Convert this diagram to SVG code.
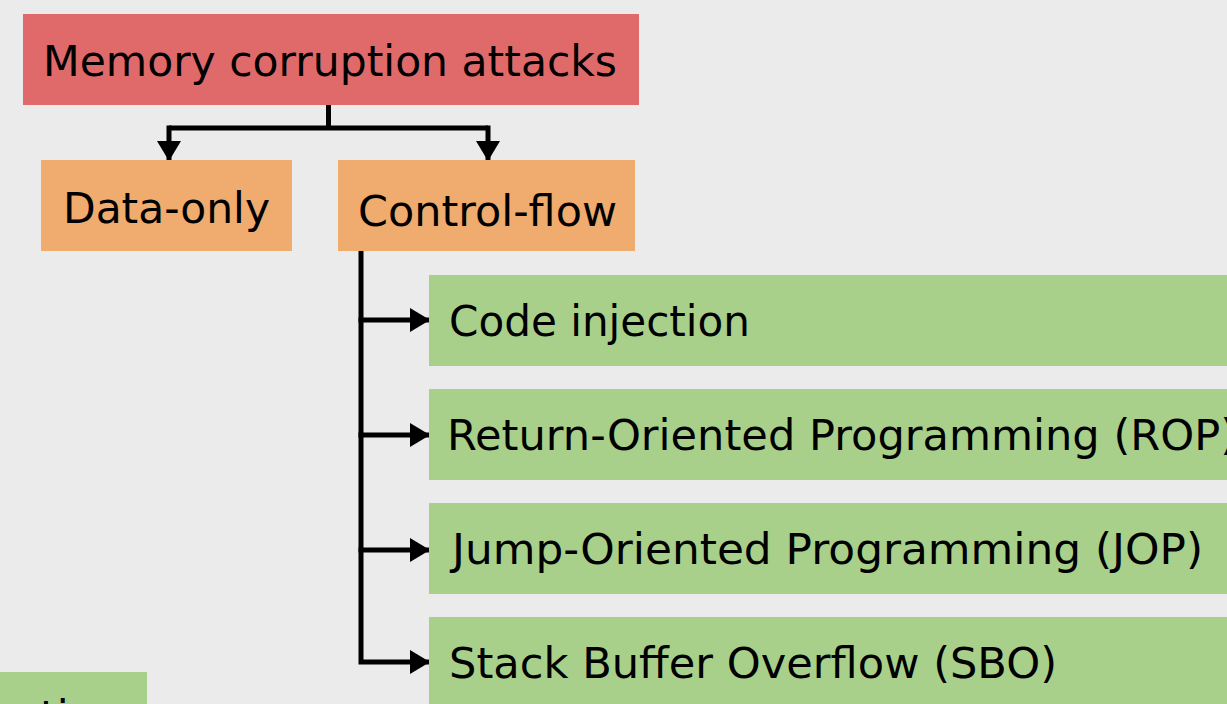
<svg xmlns="http://www.w3.org/2000/svg" width="1227" height="704" viewBox="0 0 1227 704">
<style>
text{font-family:"DejaVu Sans","Verdana",sans-serif;font-size:43px;fill:#000}
.red{fill:#E06A6A}
.org{fill:#F0AB6E}
.grn{fill:#A9D08A}
.ln{fill:none;stroke:#000;stroke-width:5;stroke-linejoin:miter}
</style>
<defs>
<marker id="ah" markerUnits="userSpaceOnUse" markerWidth="20" markerHeight="24" refX="19" refY="12" orient="auto" viewBox="0 0 20 24">
<path d="M0,0 L20,12 L0,24 Z" fill="#000"/>
</marker>
</defs>
<rect width="1227" height="704" fill="#EBEBEB"/>
<g id="connectors">
<path class="ln" d="M328.5,105 V128 M169,128 H488" />
<path class="ln" d="M169,125.5 V160" marker-end="url(#ah)"/>
<path class="ln" d="M488,125.5 V160" marker-end="url(#ah)"/>
<path class="ln" d="M361,251 V662 H429" marker-end="url(#ah)"/>
<path class="ln" d="M358.5,320 H429" marker-end="url(#ah)"/>
<path class="ln" d="M358.5,435 H429" marker-end="url(#ah)"/>
<path class="ln" d="M358.5,550 H429" marker-end="url(#ah)"/>
</g>
<g id="node-memory">
<rect class="red" x="23" y="14" width="616" height="91"/>
<text x="43" y="76" textLength="574" lengthAdjust="spacingAndGlyphs">Memory corruption attacks</text>
</g>
<g id="node-data-only">
<rect class="org" x="41" y="160" width="251" height="91"/>
<text x="63" y="223" textLength="207" lengthAdjust="spacingAndGlyphs">Data-only</text>
</g>
<g id="node-control-flow">
<rect class="org" x="338" y="160" width="297" height="91"/>
<text x="358" y="226" textLength="259" lengthAdjust="spacingAndGlyphs">Control-flow</text>
</g>
<g id="node-code-injection">
<rect class="grn" x="429" y="275" width="810" height="91"/>
<text x="449" y="336" textLength="301" lengthAdjust="spacingAndGlyphs">Code injection</text>
</g>
<g id="node-rop">
<rect class="grn" x="429" y="389" width="810" height="91"/>
<text x="447" y="450" textLength="790" lengthAdjust="spacingAndGlyphs">Return-Oriented Programming (ROP)</text>
</g>
<g id="node-jop">
<rect class="grn" x="429" y="503" width="810" height="91"/>
<text x="452" y="564" textLength="751" lengthAdjust="spacingAndGlyphs">Jump-Oriented Programming (JOP)</text>
</g>
<g id="node-sbo">
<rect class="grn" x="429" y="617" width="810" height="91"/>
<text x="449" y="678" textLength="608" lengthAdjust="spacingAndGlyphs">Stack Buffer Overflow (SBO)</text>
</g>
<g id="node-partial">
<rect class="grn" x="-10" y="672" width="157" height="60"/>
<text x="40" y="731">ti</text>
</g>
</svg>
